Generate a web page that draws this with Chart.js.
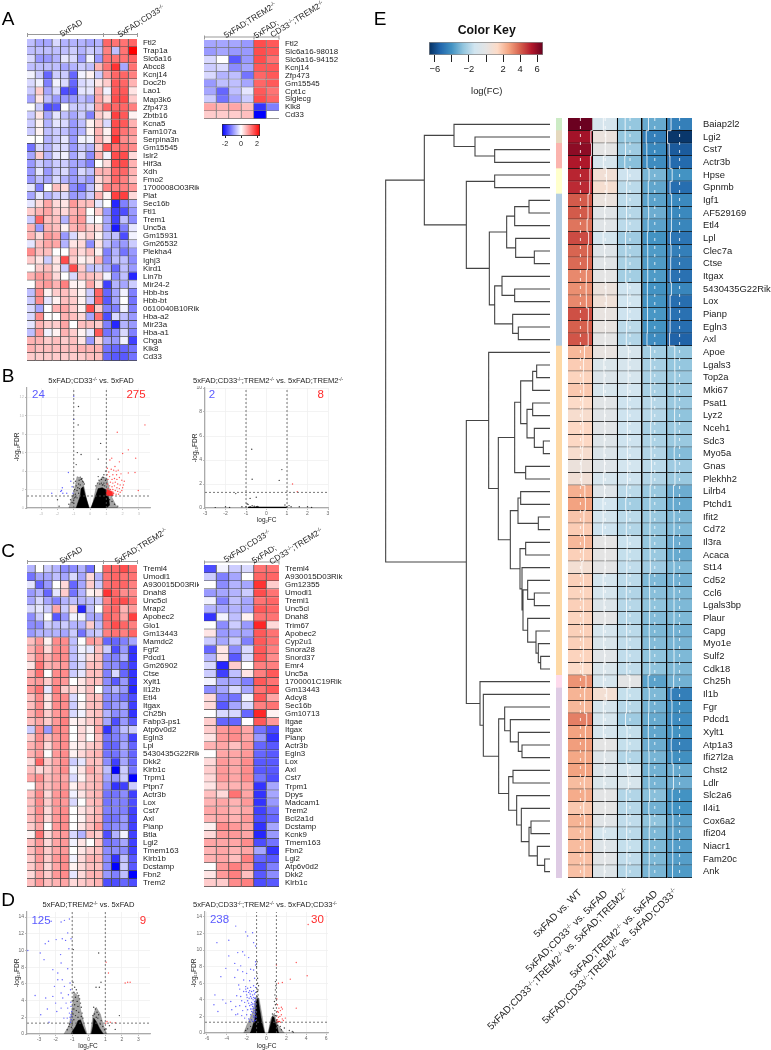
<!DOCTYPE html>
<html><head><meta charset="utf-8">
<script src="https://cdn.jsdelivr.net/npm/chart.js@4"></script>
<style>
html,body{margin:0;padding:0;background:#fff}
#page{position:relative;width:771px;height:1050px;overflow:hidden;font-family:"Liberation Sans",Arial,sans-serif;color:#222}
canvas{position:absolute}
.t{position:absolute;white-space:nowrap;line-height:1}
.t sup{font-size:.62em;line-height:0;vertical-align:.55em}
.t sub{font-size:.62em;line-height:0;vertical-align:-.25em}
svg{position:absolute;left:0;top:0}
</style></head><body><div id="page"></div>
<script>
// ---------- Panel A ----------
const genesA1=["Ftl2","Trap1a","Slc6a16","Abcc8","Kcnj14","Doc2b","Lao1","Map3k6","Zfp473","Zbtb16","Kcna5","Fam107a","Serpina3n","Gm15545","Islr2","Hif3a","Xdh","Fmo2","1700008O03Rik","Plat","Sec16b","Ftl1","Trem1","Unc5a","Gm15931","Gm26532","Plekha4","Ighj3","Kird1","Lin7b","Mir24-2","Hbb-bs","Hbb-bt","0610040B10Rik","Hba-a2","Mir23a","Hba-a1","Chga","Klk8","Cd33"];
const valuesA1=[
[-.5,-.7,-.7,-.3,-.6,-.6,-.6,-.7,-.6,1.2,1.1,1.1,1.2],
[-.5,-.5,-.5,-.5,-.5,-.4,-.6,-.4,-.5,1,-.5,1.1,2],
[-.3,-.8,-.8,-.6,-.2,-.3,-.8,-.1,-.8,1.1,1.1,1.1,1.2],
[-.5,-.5,-.5,-.5,-.7,-.6,-.4,-.5,.6,1.1,1.6,-.7,1.1],
[-.1,-.4,-1.2,-.4,-.4,-1.2,-.1,.1,-.4,.8,1.2,1.2,1],
[-.3,-.1,-1,-.1,-.3,-1.2,-.3,-.2,.2,.4,1.3,1.2,.6],
[-.4,.4,-.7,-.3,-1.4,-1.4,-.2,-.2,.6,-.1,1.3,1.3,.2],
[-.7,.2,-.5,-.8,-.8,-.8,-.5,-.7,.7,.3,1.4,1.4,.4],
[0,-.4,-1.4,-1.3,0,-.4,-.4,-.3,.7,1.2,1.2,1.2,1],
[-.4,.2,-.7,-.2,-.5,-.7,-.4,-1,.4,.2,1.5,1.3,.1],
[-.4,.1,-.6,-.2,-.3,-.8,-.5,.1,.4,-.3,1.4,1.3,.6],
[-.4,.1,-.5,-.4,-.5,-.8,-.6,.1,.6,.1,1.4,1.1,.8],
[0,0,-.6,-.4,-.2,-.8,-.1,-.1,.6,.2,1.6,.9,.7],
[-1.1,-.3,-.6,-.3,-.3,-.8,-.4,-.6,.4,1.3,1.1,1.1,.9],
[-.7,.4,-.6,-.2,-.1,-.7,-.3,-.9,.6,-.1,1.4,1.4,.3],
[-.8,-.4,-.6,-.4,-.4,-.7,-.7,-1,0,.3,1.4,1.4,.6],
[-.8,-.2,-.8,-.4,-.3,-.8,-.3,-.5,.6,.6,1.2,1.2,.6],
[-.8,-.5,-.7,-.3,-.6,-.8,-.6,-.8,.3,.6,1.2,1,.5],
[-.2,-1,0,.5,.3,-.9,-1.1,-.5,.2,1,1,1,.8],
[-.7,-.2,-.6,-.4,-.3,-.8,-.7,-.4,.6,.1,1.5,1.5,.3],
[-.2,.3,.7,.3,.2,.8,.5,.5,-.2,0,-1.7,-1,-.6],
[.4,.6,.7,.4,.3,.6,.7,0,.4,-.8,-1.5,-1.4,-.8],
[-.4,1.2,.5,.5,-.6,.7,.8,-.1,0,-.7,-1.5,-.5,-.9],
[.6,-.8,.6,.5,.1,.6,.7,.4,.3,-.7,-1.8,-1,-.2],
[.6,.3,.8,.7,-.8,-.3,.2,.4,.1,-.5,-.5,-1.4,-.1],
[-.2,.5,.7,.7,-.6,.2,.3,-.9,.2,-.5,-.8,-.8,-.4],
[.9,.5,.5,0,0,.5,.3,.5,.1,-1,-.6,-1.1,-.8],
[.4,.2,-.4,.2,1.4,.4,.1,.2,.6,-.9,-.5,-.5,-.9],
[0,.4,.5,.2,-.4,1.4,.4,-.5,-.4,-.7,-1.2,-.5,-.8],
[.6,.8,.7,.3,0,-.3,.5,.5,.4,-.1,-.9,-.5,-1.7],
[0,.7,.8,.6,1,.1,.1,.7,.2,-1.5,-.6,-.7,-.4],
[-.5,.9,.1,.4,.5,.3,.1,-.4,1.2,-1.2,-.7,-.1,-1],
[-.4,.9,-.2,.1,.5,.4,.1,-.4,1.2,-1.3,-.7,0,-1.1],
[-.3,-.7,0,.6,.7,.4,.1,1.4,.4,-1,-1,-.1,-1],
[-.3,.9,0,0,.6,.5,.3,-.7,1.1,-1.4,-.3,-.5,-.8],
[-.2,.6,.4,.4,.7,0,.5,.5,.4,-1,-1.7,-.6,-.8],
[-.5,.8,-.1,.1,.6,.4,.1,-.2,1.3,-1.1,-.9,-.3,-1],
[.6,.6,.4,.5,.4,.5,.2,-.8,.3,-.7,-.8,-.1,-1.5],
[.6,.5,.5,.5,.5,.5,.6,.6,.6,-1.1,-1.2,-1.2,-1.1],
[.4,.4,.4,.4,.4,.4,.4,.5,.5,-1.2,-1.3,-1.3,-1.1]];
const genesA2=["Ftl2","Slc6a16-98018","Slc6a16-94152","Kcnj14","Zfp473","Gm15545","Cpt1c","Siglecg","Klk8","Cd33"];
const valuesA2=[
[-.7,-.7,-.7,-.8,1.4,1.3],[-.8,-.7,-.8,-.8,1.4,1.3],[-.3,0,-1.3,-.8,1.4,1.1],[-.4,-.3,-.9,-.7,1.3,1.3],[-.3,-.6,-.5,-1.1,1.2,1.3],
[-.8,-.5,-.5,-.7,1.2,1.3],[-.7,-1.2,-.5,-.2,1.3,1.1],[-.4,-1.1,-.7,-.4,1.4,1.2],[.7,.6,.7,.5,-1.6,-1],[.4,.4,.4,.5,-2,0]];
// ---------- Panel C ----------
const genesC1=["Treml4","Umodl1","A930015D03Rik","Dnah8","Unc5cl","Mrap2","Apobec2","Glo1","Gm13443","Mamdc2","Fgf2","Pdcd1","Gm26902","Ctse","Xylt1","Il12b","Etl4","Itgax","Ch25h","Fabp3-ps1","Atp6v0d2","Egln3","Lpl","5430435G22Rik","Dkk2","Klrb1c","Trpm1","Ptpn7","Actr3b","Lox","Cst7","Axl","Pianp","Btla","Lgi2","Tmem163","Klrb1b","Dcstamp","Fbn2","Trem2"];
const valuesC1=[
[-.6,0,-.4,-.6,-.9,-.9,-.6,-1.1,0,1.2,1.2,1.4,1.1],
[-1.1,-.7,-.7,-.5,-.7,-.3,-.7,.3,-.6,1.1,1.2,1.1,1.1],
[-.2,-1.2,-.8,0,.3,-1.2,-.7,.4,-.4,1.1,1.2,1.2,1],
[-.8,-.6,-1.2,-.2,.4,-1.1,-.6,.1,.2,1.6,1.2,.9,.9],
[-.7,-.3,-.7,-1,-.6,-.5,-.6,-.5,-.4,1,1.3,1.4,1.1],
[-.3,-.2,-.4,.7,-.4,.3,-1.7,-.5,0,1.1,1.2,.6,.8],
[-.9,-.4,0,-1.3,-.8,-.1,-.1,-.7,-.7,1.2,1.1,.7,1.5],
[-.9,-.9,-.4,-.5,-.4,-.6,-.6,.4,-.5,1.1,1.4,1.2,1],
[-.8,-.6,-.6,-.6,-.7,-.4,-1.1,-.5,-.4,1,1.1,1,1.2],
[.5,.8,.1,.9,.9,-.5,0,.8,.7,-1.2,-1.2,-1,-.7],
[.6,.9,.3,.9,.9,-.5,-.1,-.2,.5,-.4,-1.4,-.8,-1.6],
[.5,.9,.6,.9,.9,-.5,-.2,.3,.5,-.9,-1,-.6,-1.6],
[.2,1.1,.6,.7,.8,-.5,-.3,.5,.5,-.9,-.9,-1.2,-1.5],
[.6,1.1,0,.9,.9,-.4,-.2,.5,.5,-1,-.3,-1.2,-1.6],
[.7,.8,.4,.9,.8,0,.2,.5,.5,-.9,-1.3,-.8,-1.6],
[.8,1.1,-.2,1,.4,.3,.2,.5,0,-.8,-.6,-.8,-1.7],
[.5,.9,.2,.9,.9,-.3,0,.5,.5,-.9,-.9,-1.1,-1.4],
[.5,.9,.2,.9,.9,-.4,.1,.5,.5,-1,-.8,-.7,-1.5],
[.6,.9,.4,.8,.9,-.3,-.1,.4,.5,-.6,-.9,-.8,-1.6],
[.5,.7,.4,.8,1,.1,.2,.4,.6,-.7,-1.4,-.8,-1.3],
[-.4,.9,-.8,.9,.9,0,.3,.1,.7,-1.6,-1,-.5,-.4],
[.4,.9,.5,.8,.9,0,.3,0,.5,-1.1,-1,-.8,-1.5],
[.6,.8,.3,.8,.9,.1,.2,.4,.5,-1.2,-1.2,-.7,-1.2],
[.6,.8,0,.8,.9,.1,.3,.5,.6,-1.1,-1.1,-.8,-1.2],
[.3,1.2,.4,.7,.9,-.4,-.2,.5,.5,-.9,-1.5,-.7,-1.2],
[.5,.3,.4,.7,.9,-.1,.2,.7,.5,-.5,-2,-.4,-1.1],
[.7,.9,.5,.7,.7,-.3,.1,.5,.6,-.7,-.8,-.4,-2],
[0,.7,.5,.7,.8,.1,.4,.5,.6,-.9,-1.6,-1.5,-.4],
[.5,.9,.3,.8,.9,-.1,.2,.5,.6,-1.1,-1.1,-.9,-1.5],
[.5,.9,.4,.8,.8,-.3,0,.5,.6,-1.1,-1,-1,-1.4],
[.5,.9,.3,.8,.9,0,.2,.4,.6,-1,-1,-1,-1.5],
[.5,.8,.3,.8,.9,0,.1,.5,.6,-1.1,-1.1,-.8,-1.5],
[.4,.7,0,.8,.9,0,.2,.5,.8,-1,-.9,-.8,-1.5],
[.1,1.1,.3,.7,.8,-.3,-.6,.5,.4,-1.4,-.6,-.1,-1.5],
[.5,.8,.3,.7,.8,-.1,.2,0,.5,-1.1,-1,-.7,-1.5],
[.5,.8,.4,.7,.8,0,.2,.4,.5,-.9,-.9,-.9,-1.5],
[.4,.8,.4,.8,.9,-.1,.3,.6,.6,-.9,-1.6,-.5,-1.3],
[.4,.7,.3,.7,.9,.1,.3,.5,.5,-.9,-2,-.4,-1.3],
[.3,.7,.4,.8,.9,-.2,.3,.6,.6,-.8,-1,-.5,-2],
[.5,.8,.5,.6,.7,.3,.4,.5,.6,-1.4,-1.4,-1.2,-1.4]];
const genesC2=["Treml4","A930015D03Rik","Gm12355","Umodl1","Treml1","Unc5cl","Dnah8","Trim67","Apobec2","Cyp2u1","Snora28","Snord37","Emr4","Unc5a","1700001C19Rik","Gm13443","Adcy8","Sec16b","Gm10713","Itgae","Itgax","Pianp","Actr3b","Egln3","Lox","Axl","Cst7","Trpm1","Dpys","Madcam1","Trem2","Bcl2a1d","Dcstamp","Kcnk9","Tmem163","Fbn2","Lgi2","Atp6v0d2","Dkk2","Klrb1c"];
const valuesC2=[
[-1.4,-.1,-.4,-.3,1.1,1.1],[-.4,-1,-.7,0,1.2,1.2],[0,-.9,-.6,-.7,1.6,.4],[-.8,-.7,-.6,-.4,1.4,1.1],[-.1,-1,-.5,-.7,1.1,1.2],
[-.6,-.7,-.6,-.7,1.3,1.2],[-1.6,-.1,-.5,.1,1.1,1.1],[0,-.9,-.4,-.8,1.7,.3],[.2,-.8,-.7,-.7,1.3,1.1],[-.4,-.7,-.4,-1,1.3,1.1],
[-1.2,.2,-.9,-.3,1.3,1],[-.6,.2,-1.3,-.3,1.3,.9],[-.3,-1.7,.4,0,1,1],[-.4,-1.5,-.5,.2,1,1.3],[-.1,-.7,-.7,-1,1.3,1.1],
[-.9,-.7,-.3,-.7,1.1,1.3],[.3,-1,-1.1,-.1,1.3,.7],[.3,-1.3,-.7,-.3,1,1.1],[0,-.3,-.3,-1.2,1.7,.1],[.4,-1.2,-1.2,0,1.3,.8],
[.4,.8,.9,.7,-1.1,-1.4],[.2,.8,.9,.7,-.8,-1.6],[.6,.7,.5,.8,-1.2,-1.3],[0,.7,.7,.8,-1.2,-1.3],[.3,.8,.7,.9,-1.3,-1.3],
[.4,.8,.7,.9,-1.3,-1.3],[.3,.8,.7,.9,-1.1,-1.4],[.2,.6,.6,.7,-1.6,-.7],[.5,.3,1.1,.7,-1.6,-.7],[.6,.7,.6,.8,-1.6,-.8],
[.7,.7,.6,.7,-1.5,-1.1],[.6,.7,.6,.8,-1.4,-1.2],[.1,.9,.8,.7,-1.6,-.7],[.3,.8,.8,.7,-1.7,-.8],[.7,.7,.7,.9,-1.4,-1.1],
[.6,.7,.6,.7,-.7,-1.6],[.6,.7,.5,1,-1.2,-1.3],[0,.8,1,.8,-1.4,-1],[.2,.8,1,.5,-1.3,-.9],[.4,.4,.9,1,-1.4,-1.3]];
// ---------- Panel E ----------
const genesE=["Baiap2l2","Lgi2","Cst7","Actr3b","Hpse","Gpnmb","Igf1","AF529169","Etl4","Lpl","Clec7a","Ctse","Itgax","5430435G22Rik","Lox","Pianp","Egln3","Axl","Apoe","Lgals3","Top2a","Mki67","Psat1","Lyz2","Nceh1","Sdc3","Myo5a","Gnas","Plekhh2","Lilrb4","Ptchd1","Ifit2","Cd72","Il3ra","Acaca","St14","Cd52","Ccl6","Lgals3bp","Plaur","Capg","Myo1e","Sulf2","Cdk18","Ch25h","Il1b","Fgr","Pdcd1","Xylt1","Atp1a3","Ifi27l2a","Chst2","Ldlr","Slc2a6","Il4i1","Cox6a2","Ifi204","Niacr1","Fam20c","Ank"];
const valuesE=[
[6.6,-1,-2.6,-3.4,-4.6],[5.6,.3,-2.6,-4.6,-6.5],[6,0,-2.4,-4.3,-5.6],[5.4,-1,-2.8,-4.2,-5.2],[5.1,.7,-1.4,-3.1,-4],[5,.9,-1.8,-3.5,-5.1],
[4.1,.3,-1.8,-3.6,-4.3],[4.1,-.3,-1.9,-3.3,-4.3],[3.6,-.3,-1.8,-3.6,-4.4],[4.4,-1.1,-2.4,-4,-4.9],[3.9,-.4,-2.2,-3.8,-4.6],[3.8,-.3,-2.2,-3.8,-4.8],
[3.2,0,-2.3,-3.8,-5],[3.1,.4,-1.4,-4,-4.4],[3.2,.6,-1.3,-4,-5.1],[4.3,.2,-1.4,-3.9,-5],[4,.2,-1.8,-4,-5.1],[4.2,0,-2,-4.2,-5.4],
[2.2,.2,-.9,-2.3,-2.6],[1.7,-.7,-1,-2.2,-2.6],[1.5,-.6,-1,-2.2,-2.5],[1.8,-.9,-1.2,-2.2,-2.5],[1.3,-.2,-1.4,-1.9,-2.5],[1,-.3,-1.4,-1.9,-2.7],
[1.4,-.2,-1.4,-2.2,-2.5],[1.4,-.5,-1.4,-2.1,-2.5],[1,-.6,-1.4,-2,-2.9],[.4,-.4,-1.2,-1.8,-2.4],[.7,-1,-1.4,-2,-2.5],[2.4,-.4,-1.8,-2.5,-3.3],
[2.7,-1.2,-2.3,-2.6,-3.4],[1.9,-1.1,-1.8,-2.5,-3],[1.7,-1.4,-2,-2.6,-3],[2.2,0,-1.5,-2.6,-3.3],[1.6,0,-1.6,-2.5,-3.4],[.8,-.1,-1.7,-2.4,-3],
[1.6,-1.1,-1.8,-3,-3.2],[1.5,-1,-2,-2.8,-3],[1.6,-.6,-1.9,-2.7,-3],[1.5,-.1,-1.9,-2.9,-3],[1.6,-1,-1.8,-3,-3.2],[1.6,-.8,-1.7,-2.9,-3.1],
[1.5,-.3,-1.7,-2.7,-3],[1.3,-.8,-1.7,-2.7,-3],[3,-1,-.1,-3.6,-3.2],[2.3,.8,-1.6,-3,-4.6],[2.2,-1,-1.9,-3.2,-4.1],[3.4,-1,-2.4,-3.4,-4.2],
[2.7,-1,-1.6,-3.5,-4],[2.8,0,-1.6,-3.3,-4.5],[2.6,-.5,-2,-3.1,-4.1],[2.7,-.6,-1.2,-3.2,-3.4],[2.1,-.7,-.9,-3.1,-3.3],[2.5,-.1,-2,-2.8,-4],
[1.8,0,-1.9,-3.2,-4],[2.3,-.3,-1.7,-2.7,-3.6],[2.1,-1.1,-1.8,-3,-3.6],[2.1,-.5,-1.6,-3,-3.7],[2,-.2,-1.7,-3,-3.7],[2,-.5,-2,-3.1,-3.8]];
const stripGroups=[["#ccebc5",1],["#e5d8bd",1],["#fbb4ae",2],["#ffffcc",2],["#b3cde3",12],["#fed9a6",26],["#fddaec",1],["#decbe4",15]];
const comparisonsE=["5xFAD vs. WT","5xFAD;CD33<sup>-/-</sup> vs. 5xFAD","5xFAD;CD33<sup>-/-</sup>;TREM2<sup>-/-</sup> vs. 5xFAD;TREM2<sup>-/-</sup>","5xFAD;TREM2<sup>-/-</sup> vs. 5xFAD","5xFAD;CD33<sup>-/-</sup>;TREM2<sup>-/-</sup> vs. 5xFAD;CD33<sup>-/-</sup>"];
// dendrogram: [branch position, child, child]; a bare number is a row of genesE
const dendroTree=[17,
 [133,[222,0,[285,1,[344,2,3]]],
  [259,[344,4,5],[328,[380,[404,[447,6,7],8],[407,9,[463,10,11]]],[344,[366,12,[404,13,14]],[398,15,[415,16,17]]]]]],
 [259,
  [326,18,[355,
   [404,[422,[458,[470,19,20],21],[441,[458,22,23],[463,24,[490,25,26]]]],[437,27,28]],
   [391,[414,[422,29,30],[475,31,32]],[420,[437,33,34],[426,35,[429,[443,36,[463,37,38]],[443,39,[468,40,[475,41,[482,42,43]]]]]]]]]],
  [300,44,[310,45,[356,[374,46,[391,47,[415,48,[426,49,50]]]],[386,[399,51,52],[410,53,[424,54,[447,[453,55,56],[472,57,[494,58,59]]]]]]]]]]];
// ---------- Volcano points [logFC, -log10FDR] ----------
const bLeftBlack=[[-.71,11],[-.73,9],[.65,7],[-.78,6],[-.55,5.8],[.5,5.3],[-.85,4.7],[-.6,3.35],[-.5,3.2],[-.67,3],[-.9,2.9],[-.55,3.1],[-.45,2.9],[-.7,2.6],[-.85,2.4],[-.95,2],[-.6,2.5],[-.8,1.9],[-.9,1.5],[-.95,1.1],[-1.05,1.3],[-1.2,.9],[-1.1,.6],[-1.3,.4],[-2,.9],[-1.9,.2],[-1,.8],[-.8,1.1],[.35,2.4],[.45,2.7],[.55,3],[.7,3.1],[.8,3.3],[.6,2.6],[.85,2.7],[.9,2.4],[.95,3],[.75,2.5],[1.2,.9],[1.35,.7],[1.5,.4],[1.7,.2],[.5,3.4],[.85,3.6],[.95,4],[-.35,2.6],[-.4,2.8],[1.1,1],[-.75,2.2],[-.65,2.1],[-.9,1.2],[-1,.5],[-.7,1.6],[.7,2.7],[.8,2.5],[1,1.6],[.95,1.4]];
const bLeftBlue=[[-1,12.1],[-1,9.6],[-1.33,3.85],[-2.35,1.6],[-1.8,1.8],[-1.7,2.2],[-1.67,1.6],[-1.43,1.6],[-1.1,2.3],[-1.18,2.9],[-1.75,1.9],[-1.05,1.6]];
const bLeftRed=[[1.67,8.2],[3.37,9],[2.35,6.3],[2,5.9],[1.8,5],[2.8,5.4],[1.22,5.2],[1.33,5.4],[1.06,4.3],[1.53,4.5],[1.73,4.1],[2.35,3.8],[2.76,3.85],[1.63,3.6],[1.4,3.6],[1.2,3.4],[2.96,1.9],[1.05,3.6],[1.15,3.9],[1.3,4.2],[1.45,4.1],[1.6,4],[1.9,3.7],[1.35,3.1],[1.5,3.2],[1.65,3.1],[1.8,3.3],[1.95,3],[2.1,2.9],[2.05,2.5],[1.1,3.1],[1.25,2.8],[1.4,2.7],[1.55,2.8],[1.7,2.6],[1.85,2.5],[2,2.2],[1.05,2.6],[1.2,2.4],[1.35,2.3],[1.5,2.4],[1.65,2.2],[1.8,2.1],[1.95,1.9],[1.1,2.1],[1.25,2],[1.4,2],[1.55,1.9],[1.7,1.8],[1.85,1.7],[1.45,1.6],[1.6,1.5],[1.75,1.5]];
const bLeftBlackLeftCloud=[[-.05,0],[-.3,1.4],[-.42,2.3],[-.55,2.1],[-.6,1.3],[-.75,.55],[-.85,0]];
const bLeftBlackRightCloud=[[.05,0],[.3,1.1],[.5,2.1],[.75,2.2],[1,1.95],[1.15,1],[1.2,.3],[1,0]];
const bLeftHaloL=[[-.1,0],[-.4,2.6],[-.5,3.2],[-.8,3.4],[-.95,2],[-1.15,.9],[-1.3,0]];
const bLeftHaloR=[[.1,0],[.4,2.5],[.75,3.4],[1.05,3.2],[1.25,1.5],[1.5,.6],[1.7,0]];
const bLeftRedCloud=[[1,1.3],[1,2],[1.2,1.9],[1.35,1.8],[1.4,1.3]];
const bRightBlack=[[-.72,4.9],[-.7,2.4],[.75,3.2],[.62,2.3],[-1.5,1.2],[-.8,.8],[-.5,.9],[-.9,.3],[-.95,.35],[-2,.1],[-1.8,.05],[-1.2,.1],[-1,.1],[-.8,.1],[-.7,.2],[-.6,.15],[-.5,.1],[1,.1],[1.1,.2],[1.2,.1],[1.6,.1],[2,.1],[2.2,.05],[-2.5,.03],[.9,.25],[-.45,.12],[-.4,.08]];
const bRightRed=[[1.27,2],[1.5,1.35]];
const bRightBlackBand=[[-.9,.03],[1,.03]];
const dLeftBlue=[[-1.67,13.4],[-2.84,13.6],[-2.27,13.5],[-1.17,13.76],[-1.47,13.6],[-1.97,11.3],[-2.43,11.1],[-2.63,10.8],[-1.6,11.4],[-1.4,11.2],[-1.27,12.1],[-1.07,11.4],[-3.68,10],[-2.93,9.7],[-2.7,8.9],[-1.7,9.5],[-1.2,10.2],[-1.67,8.5],[-2.17,7.7],[-1.27,7.8],[-1.87,7.3],[-1.6,6.5],[-1.87,6.5],[-1.13,6.1],[-2.07,5.7],[-1.47,5.7],[-3.24,4.6],[-2.17,4.5],[-2.6,4.3],[-1.67,4.9],[-2,3.7],[-1.37,3.7],[-1.57,4.3],[-2.5,3],[-2.9,2.3],[-2.4,1.4],[-1.27,3.1],[-1.17,2.5],[-1.07,2.3],[-1.13,2],[-1.5,1.9],[-1.3,1.9],[-1.07,3.3],[-1.03,2.7],[-1.23,4.7],[-1.1,5.3],[-1.67,3.1],[-1.93,2.7],[-1.05,1.7],[-1.1,1.4],[-1.02,2.1],[-1.08,3.8]];
const dLeftRed=[[1.19,7.3],[2.35,6.2],[2.5,6.2],[1.05,8.6],[1.1,1.5],[1.3,1.4],[1.02,1.3],[2.2,6.1],[1.6,1.35]];
const dLeftBlack=[[-.93,10.1],[.6,9.7],[.44,5.6],[.64,5.6],[.74,6.2],[1.85,2.2],[1.6,.55],[1.05,.6],[1.25,1],[-.95,6.2],[-.85,5.6],[-.75,5.3],[-.9,5],[-.7,4.9],[-.6,4.6],[-.8,4.4],[-.55,4.2],[-.95,4],[-.7,3.9],[-.5,3.7],[-.85,3.5],[-.65,3.3],[-.45,3.2],[-.9,3],[-.75,2.8],[-.6,2.6],[-.4,2.5],[-.95,2.4],[-.8,2.2],[-.65,2],[-.45,2.1],[-.35,1.9],[-1.2,.9],[-1.3,.5],[-1.15,1.2],[-1.05,.8],[-1,1.3],[-.9,1.7],[.3,3.2],[.4,3],[.5,2.6],[.35,2.4],[.6,2.3],[.55,1.9],[.75,1.6],[.7,1.2],[.85,.9],[.95,.5],[.25,2.2],[.45,2]];
const dLeftCloudL=[[-.15,0],[-.3,.7],[-.5,1.7],[-.65,1.6],[-.8,.9],[-1,.3],[-1.05,0]];
const dLeftCloudR=[[.15,0],[.25,.9],[.3,1.9],[.45,1.5],[.65,.7],[.85,.1],[.85,0]];
const dLeftHaloL=[[-.1,0],[-.3,1.4],[-.5,3],[-.6,4.5],[-.9,5],[-1,3],[-1.2,1],[-1.5,0]];
const dLeftHaloR=[[.1,0],[.25,2.2],[.45,3.2],[.7,2.4],[.9,1],[1.1,0]];
const dRightBlue=[[-3.1,12.9],[-2.1,12.2],[-1.4,12.1],[-1.9,11.7],[-3.8,11.2],[-5,10.9],[-1.3,10.9],[-1.1,10.5],[-2.4,9.8],[-2.9,9.7],[-3.8,9.3],[-2.2,9.4],[-1.8,9.1],[-1.1,8.6],[-3.2,8.4],[-2.6,8.1],[-1.1,8.2],[-4.1,7.8],[-2.9,7.6],[-2.4,7.4],[-1.6,7.7],[-1.3,7.6],[-2,7.2],[-4.6,6.8],[-3.2,6.7],[-2.3,6.4],[-1.7,6.3],[-1.2,6.6],[-2.8,5.8],[-2.1,5.6],[-2.7,5.3],[-2.1,5.3],[-1.9,5.4],[-1.6,5.5],[-1.3,5.7],[-1.1,5.5],[-2.3,5],[-1.8,4.9],[-1.5,5],[-1.2,4.7],[-3,4.5],[-5.2,4.6],[-2.6,4.4],[-2,4.6],[-1.6,4.4],[-1.3,4.3],[-1.1,4.2],[-4.4,4],[-3.6,3.8],[-2.5,3.9],[-2.2,3.7],[-1.9,3.9],[-1.5,3.7],[-1.2,3.8],[-5.3,3.4],[-4.1,3.6],[-3.1,3.2],[-2.7,3.3],[-2.1,3.2],[-1.7,3.3],[-1.4,3.2],[-1.1,3.3],[-4.9,2.6],[-3.5,2.8],[-2.4,2.7],[-1.9,2.8],[-1.5,2.6],[-1.2,2.7],[-3.1,2.2],[-2.9,2.3],[-2.5,2.1],[-2,2.2],[-1.6,2.2],[-1.3,2.1],[-1.1,2.3],[-2.2,1.8],[-1.8,1.7],[-1.5,1.6],[-1.2,1.7],[-1.1,1.5],[-1.4,1.4],[-1.7,1.4],[-1.3,1.9],[-1.2,1.45],[-1.05,1.9],[-1.15,2],[-1.25,2.4],[-1.35,2.5],[-1.05,2.6],[-1.15,3],[-1.3,3],[-1.45,2.9],[-1.6,2.9],[-1.05,3.5],[-1.25,3.5],[-1.4,3.5],[-1.55,3.4],[-1.8,3.6],[-1.05,3.9],[-1.35,4],[-1.5,4.2],[-1.75,4.2],[-1.95,4.3],[-1.2,4.2],[-1.4,4.6],[-1.65,4.7],[-1.1,4.9],[-1.3,5.1],[-1.7,5.1],[-2.05,5]];
const dRightRed=[[4.2,13.1],[3,8.5],[2.4,6.5],[4.1,6.9],[1.6,6.1],[1.2,6],[3,3],[1.6,2.9],[1.4,2.7],[1.1,3.4],[1.2,2.5],[1.9,1.8],[1.6,1.7],[1.2,1.9],[1.1,1.6],[1.3,1.4],[1,8.2],[1.4,1.3],[1.1,2.6],[1.2,1.4],[1.5,3.1],[1.05,2.1],[1.25,3],[1.05,4.1],[1.15,1.35],[1.7,1.5],[1.35,2],[1.08,1.3],[1.5,2.2],[1.02,1.5]];
const dRightBlack=[[-.95,8.6],[-1,8],[-.95,7.2],[-.9,6.6],[-.9,6],[-.8,5.7],[-.95,5.3],[-.9,5],[-.85,4.6],[.9,6.2],[.95,5.7],[.9,5.2],[.85,4.6],[.95,4.2],[.8,3.8],[.9,3.4],[.7,3],[.85,2.7],[.6,2.3],[.9,2.1],[.75,1.8],[1,1.3],[1.4,.8],[1.8,.6],[2.3,.3],[2.6,.2],[1.5,.4],[-1.3,1],[-1.6,.8],[-1.9,.5],[-2.1,.3],[-1.1,1.1],[-.95,4.4],[-.85,5.2],[2.7,.1],[1.1,.9]];
const dRightCloudL=[[-.2,0],[-.5,1.5],[-.7,3],[-.85,4.2],[-1.05,3.8],[-1.1,2.5],[-1.2,1.6],[-1.4,.8],[-1.6,.1],[-1.6,0]];
const dRightCloudR=[[.2,0],[.4,1],[.6,2],[.75,1.9],[.9,1.2],[1.1,.6],[1.2,.1],[1.2,0]];
const dRightHaloL=[[-.15,0],[-.5,2.5],[-.75,4.2],[-1.05,4.4],[-1.4,2.5],[-2,.9],[-2.3,0]];
const dRightHaloR=[[.15,0],[.45,1.8],[.8,2.4],[1,1.3],[1.4,.6],[1.8,0]];
// ---------- Colour palettes ----------
const keyRdBu=["#053061","#2166ac","#4393c3","#92c5de","#d1e5f0","#e4e4e4","#fddbc7","#f4a582","#d6604d","#b2182b","#67001f"];
const keyBWR=["#0000ff","#ffffff","#ff0000"];

const page=document.getElementById('page');
const FONT='"Liberation Sans",Arial,sans-serif';
Chart.defaults.font.family=FONT;
Chart.defaults.animation=false;
function hex(c){return [1,3,5].map(i=>parseInt(c.substr(i,2),16))}
function ramp(stops,lim){return v=>{
  const t=Math.max(0,Math.min(1,(v+lim)/(2*lim)))*(stops.length-1),i=Math.min(stops.length-2,Math.floor(t)),f=t-i;
  const a=hex(stops[i]),b=hex(stops[i+1]);
  return 'rgb('+a.map((x,k)=>Math.round(x+(b[k]-x)*f)).join(',')+')';
}}
const bwr=ramp(keyBWR,2), rdbu=ramp(keyRdBu,6.67);
function text(html,o){
  const d=document.createElement('div');d.className='t';d.innerHTML=html;
  d.style.left=o.x+'px';d.style.top=o.y+'px';d.style.fontSize=(o.size||8)+'px';
  if(o.color)d.style.color=o.color;if(o.weight)d.style.fontWeight=o.weight;
  if(o.end){d.style.transformOrigin='100% 50%';d.style.transform='translate(-100%,-50%) rotate('+(o.rot||0)+'deg)';}
  else d.style.transform='translate(-50%,-50%) rotate('+(o.rot||0)+'deg)';
  page.appendChild(d);
}
function mount(box,pad){ // box = plot area on the page; pad = room around it inside the canvas
  const c=document.createElement('canvas');
  const w=Math.round(box.r-box.l+pad.l+pad.r),h=Math.round(box.b-box.t+pad.t+pad.b);
  c.width=w;c.height=h;c.style.left=(box.l-pad.l)+'px';c.style.top=(box.t-pad.t)+'px';c.style.width=w+'px';c.style.height=h+'px';
  page.appendChild(c);return c;
}
const baseOpts=()=>({responsive:false,animation:false,events:[],layout:{autoPadding:false,padding:{left:0,right:0,top:0,bottom:0}},plugins:{legend:{display:false},title:{display:false},tooltip:{enabled:false}}});
const noPad=s=>{s.paddingTop=0;s.paddingBottom=0;s.paddingLeft=0;s.paddingRight=0};

function heatmap(box,genes,rows,o){
  const n=rows[0].length,labelW=o.labelW||70;
  const c=mount(box,{l:0,r:labelW,t:0,b:0});
  const ds=[];
  for(let j=0;j<n;j++)ds.push({label:'col'+j,data:rows.map(()=>1),backgroundColor:rows.map(r=>o.color(r[j])),
    borderColor:o.line,borderWidth:o.line?{right:j<n-1?o.lw:0,bottom:o.lw,top:0,left:0}:0,borderSkipped:false,barPercentage:1,categoryPercentage:1});
  const opts=baseOpts();
  opts.indexAxis='y';
  opts.scales={x:{type:'linear',stacked:true,min:0,max:n,display:false},
    y:{type:'category',stacked:true,position:'right',labels:genes,grid:{display:false,drawTicks:false},border:{display:false},
      afterFit(s){s.width=labelW;noPad(s)},
      ticks:{display:o.labels!==false,autoSkip:false,padding:o.pad||6,color:'#222',font:{size:o.font||7.9},maxRotation:0,minRotation:0}}};
  return new Chart(c,{type:'bar',data:{labels:genes,datasets:ds},options:opts,plugins:o.plugins||[]});
}
function colorKey(box,lim,stops,step,fmt,fs,tl,border,bh){
  const c=mount(box,{l:14,r:14,t:1,b:bh});
  const grad=ctx=>{const ch=ctx.chart,a=ch.chartArea;if(!a)return '#ccc';
    const g=ch.ctx.createLinearGradient(a.left,0,a.right,0);stops.forEach((s,i)=>g.addColorStop(i/(stops.length-1),s));return g};
  const opts=baseOpts();opts.indexAxis='y';opts.layout.padding={left:14,right:14,top:1,bottom:0};
  opts.scales={y:{type:'category',labels:['key'],display:false},
    x:{type:'linear',min:-lim,max:lim,position:'bottom',grid:{display:true,drawOnChartArea:false,drawTicks:true,tickLength:tl,tickColor:'#222'},border:{display:false},
      afterFit(s){s.height=bh;noPad(s)},
      ticks:{stepSize:step,includeBounds:false,padding:2,color:'#222',font:{size:fs},maxRotation:0,callback:fmt}}};
  return new Chart(c,{type:'bar',data:{labels:['key'],datasets:[{data:[[-lim,lim]],backgroundColor:grad,borderColor:border,borderWidth:1,borderSkipped:false,barPercentage:1,categoryPercentage:1}]},options:opts});
}
const pts=a=>a.map(p=>({x:p[0],y:p[1]}));
function volcano(box,xl,yl,ystep,xstep,sets,tickCol){
  const pad={l:16,r:4,t:2,b:11};
  const c=mount(box,pad);
  const ds=[];
  (sets.fill||[]).forEach(f=>ds.push({data:pts(f[0]),showLine:true,fill:'shape',backgroundColor:f[1],borderColor:f[1],borderWidth:.5,pointRadius:0,order:f[2]||3}));
  (sets.band||[]).forEach(f=>ds.push({data:pts(f),showLine:true,borderColor:'#000',borderWidth:2,pointRadius:0,order:3}));
  const dot=(a,col,ord)=>ds.push({data:pts(a),backgroundColor:col,pointRadius:.7,pointBorderWidth:0,showLine:false,order:ord});
  dot(sets.black,'rgba(0,0,0,.75)',2);dot(sets.blue,'rgba(70,70,255,.85)',1);dot(sets.red,'rgba(255,50,50,.85)',1);
  const dash=(a)=>ds.push({data:pts(a),showLine:true,borderColor:'#555',borderWidth:.8,borderDash:[2,2],pointRadius:0,order:0});
  dash([[-1,yl[0]],[-1,yl[1]]]);dash([[1,yl[0]],[1,yl[1]]]);dash([[xl[0],1.3],[xl[1],1.3]]);
  const opts=baseOpts();opts.layout.padding={left:0,right:pad.r,top:pad.t,bottom:0};
  const tick={color:tickCol||'#666',font:{size:tickCol?4:5},padding:1,includeBounds:false,maxRotation:0};
  opts.scales={
    x:{type:'linear',min:xl[0],max:xl[1],afterFit(s){s.height=pad.b;noPad(s)},grid:{color:'#f0f0f0',lineWidth:.8,tickColor:'#aaa',tickLength:2},border:{color:'#aaa',width:1.2},ticks:{...tick,stepSize:xstep}},
    y:{type:'linear',min:yl[0],max:yl[1],afterFit(s){s.width=pad.l;noPad(s)},grid:{color:'#f0f0f0',lineWidth:.8,tickColor:'#aaa',tickLength:2},border:{color:'#aaa',width:1.2},ticks:{...tick,stepSize:ystep}}};
  return new Chart(c,{type:'scatter',data:{datasets:ds},options:opts});
}
// ---- heatmaps ----
const LINE='rgba(50,50,50,.9)';
heatmap({l:27.3,r:137.7,t:39.3,b:361.7},genesA1,valuesA1,{color:bwr,line:LINE,lw:1,labelW:62});
heatmap({l:204.3,r:279.3,t:40,b:119},genesA2,valuesA2,{color:bwr,line:'rgba(80,80,80,.8)',lw:1,labelW:70});
heatmap({l:27.3,r:137.7,t:565,b:887.3},genesC1,valuesC1,{color:bwr,line:LINE,lw:1,labelW:62});
heatmap({l:204.3,r:279.3,t:565,b:887.3},genesC2,valuesC2,{color:bwr,line:LINE,lw:1,labelW:70});
// E heatmap with heatmap.2-style traces
const tracePlugin={id:'trace',afterDatasetsDraw(ch){
  const ctx=ch.ctx,X=ch.scales.x,Y=ch.scales.y,band=Y.getPixelForValue(1)-Y.getPixelForValue(0),a=ch.chartArea;
  ctx.save();
  ctx.strokeStyle='#000';ctx.lineWidth=1;
  for(let j=1;j<5;j++){const b=Math.round(X.getPixelForValue(j))-.5;ctx.beginPath();ctx.moveTo(b,a.top);ctx.lineTo(b,a.bottom);ctx.stroke();}
  ctx.strokeStyle='rgba(255,255,255,.8)';
  for(let j=0;j<5;j++){
    ctx.setLineDash([3,5]);ctx.beginPath();const cx=X.getPixelForValue(j+.5);ctx.moveTo(cx,a.top);ctx.lineTo(cx,a.bottom);ctx.stroke();
    ctx.setLineDash([]);ctx.beginPath();
    valuesE.forEach((r,i)=>{const px=X.getPixelForValue(j+.5+r[j]/(2*6.67)),py=Y.getPixelForValue(i);
      if(i===0)ctx.moveTo(px,py-band/2);else ctx.lineTo(px,py-band/2);ctx.lineTo(px,py+band/2);});
    ctx.stroke();
  }
  ctx.restore();
}};
heatmap({l:567.7,r:691.7,t:118.3,b:878.7},genesE,valuesE,{color:rdbu,line:'#111',lw:1,labelW:79,pad:11,font:9.4,plugins:[tracePlugin]});
const stripColors=stripGroups.flatMap(g=>Array(g[1]).fill(g[0]));
(function(){const c=mount({l:556,r:562.3,t:118.3,b:878.7},{l:0,r:1,t:0,b:0});const opts=baseOpts();opts.indexAxis='y';opts.layout.padding.right=1;
  opts.scales={x:{type:'linear',stacked:true,min:0,max:1,display:false},y:{type:'category',stacked:true,labels:genesE,display:false}};
  new Chart(c,{type:'bar',data:{labels:genesE,datasets:[{data:genesE.map(()=>1),backgroundColor:stripColors,barPercentage:1,categoryPercentage:1}]},options:opts});})();
// dendrogram
const dendroPts=[];
(function walk(n){ if(typeof n==='number')return {x:510,y:n};
  const a=walk(n[1]),b=walk(n[2]);
  dendroPts.push({x:a.x,y:a.y},{x:n[0],y:a.y},{x:n[0],y:b.y},{x:b.x,y:b.y},{x:NaN,y:NaN});
  return {x:n[0],y:(a.y+b.y)/2};
})(dendroTree);
(function(){const c=mount({l:380,r:550,t:118.3,b:878.7},{l:0,r:0,t:0,b:0});const opts=baseOpts();
  opts.scales={x:{type:'linear',min:0,max:510,display:false},y:{type:'linear',min:-.5,max:59.5,reverse:true,display:false}};
  new Chart(c,{type:'scatter',data:{datasets:[{data:dendroPts,showLine:true,spanGaps:false,borderColor:'#444',borderWidth:1.1,pointRadius:0}]},options:opts});})();
// colour keys
colorKey({l:222,r:260,t:123.7,b:136},2.375,keyBWR,2,v=>v===0?'0':(v<0?'-':'')+Math.abs(v),7.2,2,'#333',14);
colorKey({l:429.3,r:543.3,t:41.7,b:54.3},6.68,keyRdBu,2,v=>(v===-4||v===0)?'':(v<0?'\u2212':'')+Math.abs(v),9.4,7,'#888',26);
// volcano plots
const HALO='rgba(0,0,0,.35)';
volcano({l:27,r:150,t:388,b:508},[-3.87,3.68],[0,13],2,1,{black:bLeftBlack,blue:bLeftBlue,red:bLeftRed,fill:[[bLeftHaloL,HALO,4],[bLeftHaloR,HALO,4],[bLeftBlackLeftCloud,'#000'],[bLeftBlackRightCloud,'#000'],[bLeftRedCloud,'#ff2a2a',1]]},'#bbb');
volcano({l:205.3,r:328,t:388.3,b:508},[-3,3],[0,10],2,1,{black:bRightBlack,blue:[],red:bRightRed,band:[bRightBlackBand]});
volcano({l:27,r:150,t:912,b:1034},[-3.73,3.7],[0,14.6],2,1,{black:dLeftBlack,blue:dLeftBlue,red:dLeftRed,fill:[[dLeftHaloL,HALO,4],[dLeftHaloR,HALO,4],[dLeftCloudL,'#000'],[dLeftCloudR,'#000']]});
volcano({l:205,r:328,t:912,b:1033},[-6.2,6.2],[0,14.6],2,2,{black:dRightBlack,blue:dRightBlue,red:dRightRed,fill:[[dRightHaloL,HALO,4],[dRightHaloR,HALO,4],[dRightCloudL,'#000'],[dRightCloudR,'#000']]});
// ---- brackets ----
const S='http://www.w3.org/2000/svg',svg=document.createElementNS(S,'svg');svg.setAttribute('width',771);svg.setAttribute('height',1050);
[[27.5,137.5,103.5,34.5],[204.5,279,254,37],[27.5,137.5,103.5,561.5],[204.5,279,254.5,562]].forEach(b=>{
  const p=document.createElementNS(S,'path');
  p.setAttribute('d',`M${b[0]} ${b[3]+2.5}V${b[3]-1.5}M${b[0]} ${b[3]}H${b[1]}M${b[2]} ${b[3]+2.5}V${b[3]-1.5}M${b[1]} ${b[3]+2.5}V${b[3]-1.5}`);
  p.setAttribute('stroke','#999');p.setAttribute('fill','none');p.setAttribute('stroke-width','1');svg.appendChild(p);});
page.appendChild(svg);
// ---- text ----
[["A",8,18],["B",8,375],["C",8,550],["D",8,899],["E",380,18]].forEach(a=>text(a[0],{x:a[1],y:a[2],size:19,color:'#000'}));
const K='<sup>-/-</sup>',R=-32;
text('5xFAD',{x:71,y:28,size:8.3,rot:R});text('5xFAD;CD33'+K,{x:141,y:21,size:8.3,rot:R});
text('5xFAD;TREM2'+K,{x:250,y:20,size:8.3,rot:R});text('5xFAD;',{x:266,y:29,size:8.3,rot:R});text('CD33'+K+';TREM2'+K,{x:297,y:19,size:8.3,rot:R});
text('5xFAD',{x:71,y:555,size:8.3,rot:R});text('5xFAD;TREM2'+K,{x:141,y:546,size:8.3,rot:R});
text('5xFAD;CD33'+K,{x:247,y:546,size:8.3,rot:R});text('5xFAD;',{x:264,y:554,size:8.3,rot:R});text('CD33'+K+';TREM2'+K,{x:296,y:546,size:8.3,rot:R});
text('5xFAD;CD33'+K+' vs. 5xFAD',{x:91,y:380.5,size:7.6});
text('5xFAD;CD33'+K+';TREM2'+K+' vs. 5xFAD;TREM2'+K,{x:268,y:380.5,size:7.6});
text('5xFAD;TREM2'+K+' vs. 5xFAD',{x:88.5,y:905,size:7.6});
text('5xFAD;CD33'+K+';TREM2'+K+' vs. 5xFAD;CD33'+K,{x:265,y:905,size:7.6});
const BL='#5a5aff',RD='#ff2a2a';
[["24",38.5,395,BL],["275",136,395,RD],["2",212,395,BL],["8",320.7,395,RD],["125",41,921,BL],["9",143,921,RD],["238",219.5,920,BL],["30",317.5,920,RD]].forEach(a=>text(a[0],{x:a[1],y:a[2],size:11.5,color:a[3]}));
const LX='log<sub>2</sub>FC',LY='-log<sub>10</sub>FDR';
text(LY,{x:17,y:447,size:6.5,rot:-90});text(LY,{x:195,y:448,size:6.5,rot:-90});text(LX,{x:266.7,y:520,size:6.5});
text(LY,{x:17,y:973,size:6.5,rot:-90});text(LY,{x:194,y:973,size:6.5,rot:-90});text(LX,{x:88,y:1046,size:6.5});text(LX,{x:266.7,y:1046,size:6.5});
text('Color Key',{x:486.7,y:30,size:12.3,weight:'bold',color:'#111'});
text('log(FC)',{x:486.7,y:91,size:9.4});
[[580,890.7],[606,891.7],[627.3,890],[656,891.7],[676,890]].forEach((p,i)=>text(comparisonsE[i],{x:p[0],y:p[1],size:9.9,rot:-45,end:true}));
</script></body></html>
